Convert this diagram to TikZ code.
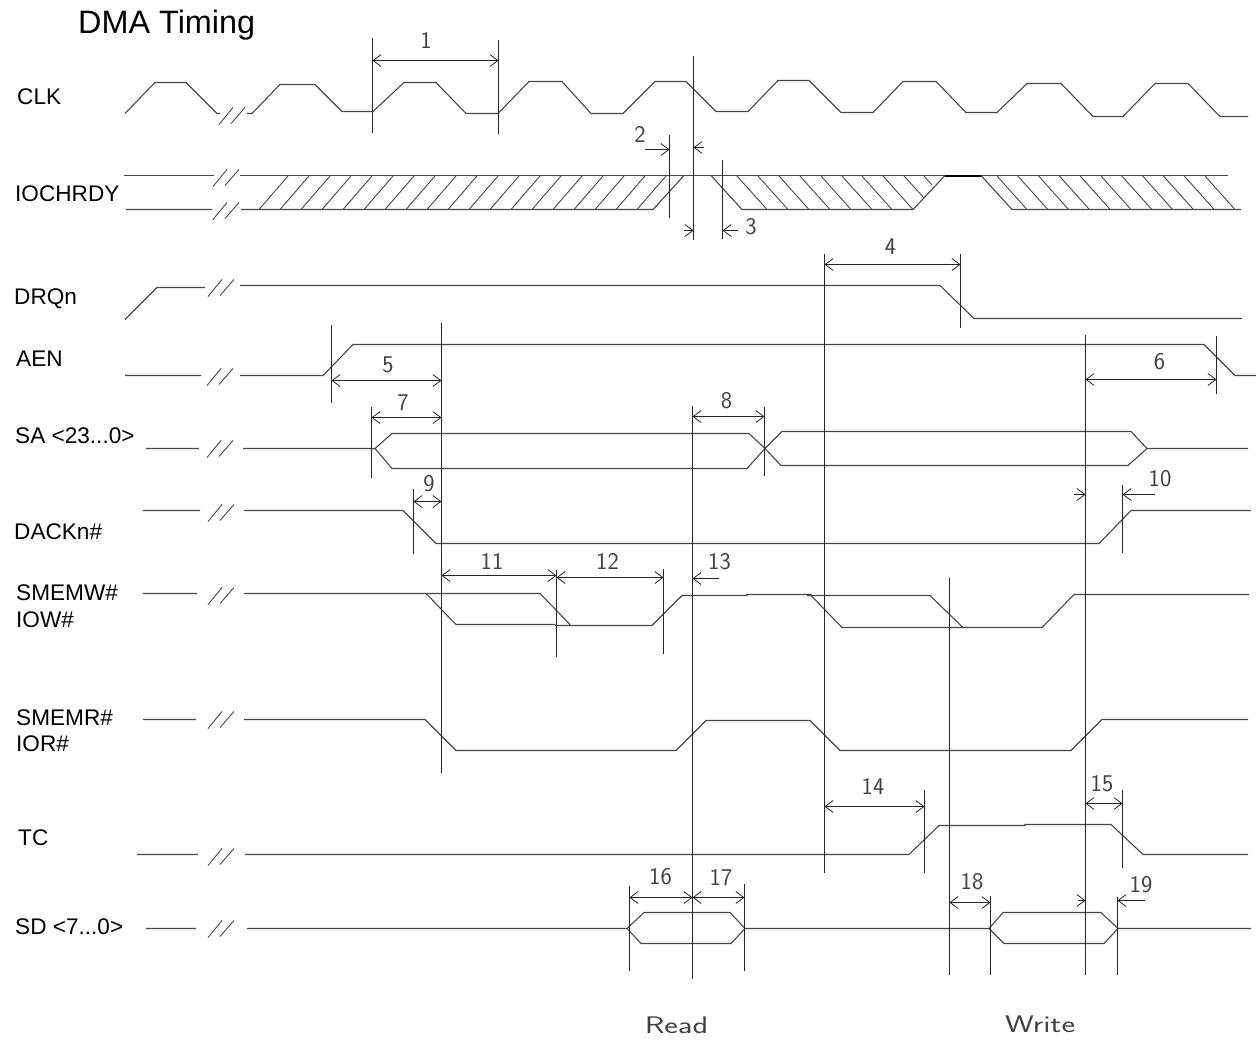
\documentclass[tikz,border=0pt]{standalone}
\usepackage{fontspec}
\setmainfont{Liberation Sans}
\usetikzlibrary{arrows.meta}
\tikzset{
  wave/.style={draw=black!72,line width=1.1pt,line join=miter,yshift=-.5pt},
  hatch/.style={draw=black!72,line width=.9pt},
  guide/.style={draw=black!85,line width=1pt},
  gauge/.style={draw=black!85,line width=1pt,>={Straight Barb[length=8pt,width=12pt,line width=.8pt]}},
  siglabel/.style={anchor=west,inner sep=0pt,font=\fontsize{22.6}{24}\selectfont},
  numlabel/.style={inner sep=0pt,text=black!75,font=\sffamily\fontsize{24}{26}\selectfont},
  widelabel/.style={numlabel,xscale=1.35,transform shape},
}
\begin{document}
\begin{tikzpicture}[x=1pt,y=-1pt]
\useasboundingbox (0,0) rectangle (1256,1042);
\def\brk#1#2{\draw[wave,line width=.9pt] (#1,#2+9)--(#1+14,#2-8) (#1+12,#2+8)--(#1+26,#2-8);}
\def\tick#1#2#3{\draw[guide] (#1,#2)--(#1,#3);}
\def\spanarrow#1#2#3{\draw[gauge,<->] (#1,#3)--(#2,#3);}
\def\tonum#1#2#3#4{\node[numlabel] (n#1) at (#2,#3){#4};}
% labels
\node[siglabel,font=\fontsize{32.4}{34}\selectfont] (title) at (78,25){DMA Timing};
\node[siglabel] (clk) at (17,97){CLK};
\node[siglabel] (iochrdy) at (15,194){IOCHRDY};
\node[siglabel] (drq) at (14,299){DRQn};
\node[siglabel] (aen) at (16,359){AEN};
\node[siglabel] (sa) at (15,436){SA <23...0>};
\node[siglabel] (dack) at (14,532){DACKn\#};
\node[siglabel] (smemw) at (16,593){SMEMW\#};
\node[siglabel] (iow) at (16,620){IOW\#};
\node[siglabel] (smemr) at (16,718){SMEMR\#};
\node[siglabel] (ior) at (16,744){IOR\#};
\node[siglabel] (tc) at (18,838){TC};
\node[siglabel] (sd) at (15,927){SD <7...0>};
% CLK
\draw[wave] (125,113)--(155,82)--(186,82)--(217,113)--(220,113);
\brk{219}{115}
\draw[wave] (247,113)--(252,113)--(280,84)--(315,84)--(342,111)--(373,111)--(404,82)--(436,82)--(466,113)--(498,113)--(529,81)--(562,81)--(591,113)--(623,113)--(655,81)--(686,81)--(716,111)--(748,111)--(778,80)--(809,80)--(841,112)--(873,112)--(903,81)--(936,81)--(966,112)--(997,112)--(1027,83)--(1061,83)--(1093,116)--(1123,116)--(1155,83)--(1188,83)--(1220,116)--(1248,116);
% IOCHRDY
\draw[wave] (124,175)--(214,175) (240,175)--(1228,175);
\draw[wave] (126,209)--(212,209) (241,209)--(653,209)--(684,175) (711,175)--(742,209)--(913,209)--(945,175) (981,175)--(1012,209)--(1241,209);
\draw[black,line width=2pt] (945,175.5)--(981,175.5);
\brk{213}{177}
\brk{213}{210}
\foreach \x in {0,...,18}{\draw[hatch] (259+21*\x,209.5)--(288+21*\x,176);}
\foreach \x in {737,758,779,800,821,842,862,883}{\draw[hatch] (\x,176)--(\x+30,209.5);}
\draw[hatch] (904,176)--(924,198) (924,176)--(932,185);
\foreach \x in {0,...,10}{\draw[hatch] (997+20.8*\x,176)--(1027+20.8*\x,209.5);}
% DRQn
\draw[wave] (125,319)--(157,287)--(205,287) (240,285)--(940,285)--(974,318)--(1242,318);
\brk{208}{287}
% AEN
\draw[wave] (125,375)--(201,375) (240,375)--(323,375)--(353,344)--(1204,344)--(1235,375)--(1256,375);
\brk{207}{376}
% SA
\draw[wave] (146,448)--(199,448) (243,448)--(375,448)--(392,433)--(749,433)--(765,448)--(781,465)--(1128,465)--(1147,448)--(1248,448);
\draw[wave] (375,448)--(392,468)--(747,468)--(765,448)--(782,431)--(1131,431)--(1147,448);
\brk{207}{448}
% DACKn
\draw[wave] (143,510)--(200,510) (244,510)--(403,510)--(436,543)--(1099,543)--(1131,510)--(1251,510);
\brk{208}{512}
% SMEMW
\draw[wave] (143,593)--(197,593) (244,593)--(540,593)--(570,624) (426,593)--(456,624)--(555,624) (555,625)--(652,625)--(682,595)--(747,595)--(747,594)--(811,594)--(811,595)--(842,627)--(1042,627)--(1074,594)--(1249,594) (807,595)--(930,595)--(963,627);
\brk{208}{595}
% SMEMR
\draw[wave] (143,719)--(196,719) (244,719)--(425,719)--(456,750)--(676,750)--(706,720)--(810,720)--(840,750)--(1071,750)--(1102,719)--(1248,719);
\brk{208}{719}
% TC
\draw[wave] (137,854)--(198,854) (245,854)--(909,854)--(939,825)--(1025,825)--(1025,824)--(1111,824)--(1143,854)--(1248,854);
\brk{208}{856}
% SD
\draw[wave] (146,928)--(196,928) (247,928)--(627,928)--(644,912)--(730,912)--(745,928)--(989,928)--(1003,912)--(1101,912)--(1118,928)--(1251,928);
\draw[wave] (627,928)--(641,943)--(731,943)--(745,928) (989,928)--(1004,943)--(1104,943)--(1118,928);
\brk{208}{928}
% timing marks
\tick{372.5}{38}{133}
\tick{498.5}{40}{134}
\tick{693.5}{56}{240}
\tick{692.5}{406}{979}
\tick{669.5}{135}{218}
\tick{722.5}{160}{239}
\tick{824.5}{254}{873}
\tick{960.5}{254}{328}
\tick{331.5}{325}{403}
\tick{441.5}{323}{773}
\tick{1085.5}{335}{975}
\tick{1216.5}{336}{394}
\tick{371.5}{407}{478}
\tick{764.5}{407}{476}
\tick{413.5}{489}{554}
\tick{1122.5}{485}{553}
\tick{556.5}{570}{657}
\tick{663.5}{569}{654}
\tick{924.5}{790}{873}
\tick{1122.5}{790}{868}
\tick{629.5}{886}{971}
\tick{744.5}{884}{971}
\tick{949.5}{578}{975}
\tick{990.5}{896}{975}
\tick{1117.5}{897}{975}
% spans
\spanarrow{372.5}{498.5}{60.5}
\spanarrow{824.5}{960.5}{264.5}
\spanarrow{331.5}{441.5}{380.5}
\spanarrow{1085.5}{1216.5}{379.5}
\spanarrow{371.5}{441.5}{417.5}
\spanarrow{692.5}{764.5}{416.5}
\spanarrow{413.5}{441.5}{501.5}
\spanarrow{441.5}{556.5}{575.5}
\spanarrow{556.5}{663.5}{577.5}
\spanarrow{824.5}{924.5}{806.5}
\spanarrow{1085.5}{1122.5}{803.5}
\spanarrow{629.5}{692.5}{897.5}
\spanarrow{692.5}{744.5}{897.5}
\spanarrow{949.5}{990.5}{902.5}
\draw[gauge,->] (645,149.5)--(669.5,149.5);
\draw[gauge,->] (704,147.5)--(693.5,147.5);
\draw[gauge,->] (683.5,230.5)--(693.5,230.5);
\draw[gauge,->] (737.5,230.5)--(722.5,230.5);
\draw[gauge,->] (1073.5,494.5)--(1085.5,494.5);
\draw[gauge,->] (1154.5,494.5)--(1122.5,494.5);
\draw[gauge,->] (718.5,578.5)--(692.5,578.5);
\draw[gauge,->] (1078,900.5)--(1085.5,900.5);
\draw[gauge,->] (1145,900.5)--(1117.5,900.5);
% numbers
\tonum{1}{426}{40}{1}
\tonum{2}{640}{134}{2}
\tonum{3}{751}{227}{3}
\tonum{4}{890.5}{247}{4}
\tonum{5}{388}{365}{5}
\tonum{6}{1159.5}{362}{6}
\tonum{7}{403}{403}{7}
\tonum{8}{726.5}{401}{8}
\tonum{9}{429}{484}{9}
\tonum{10}{1160}{479}{10}
\tonum{11}{492}{561}{11}
\tonum{12}{607.5}{561}{12}
\tonum{13}{719.5}{562}{13}
\tonum{14}{873}{786}{14}
\tonum{15}{1102}{784}{15}
\tonum{16}{660.5}{877}{16}
\tonum{17}{721}{878}{17}
\tonum{18}{972}{882}{18}
\tonum{19}{1141}{885}{19}
\node[widelabel] (read) at (676.5,1025){Read};
\node[widelabel] (write) at (1040,1024){Write};
\end{tikzpicture}
\end{document}
